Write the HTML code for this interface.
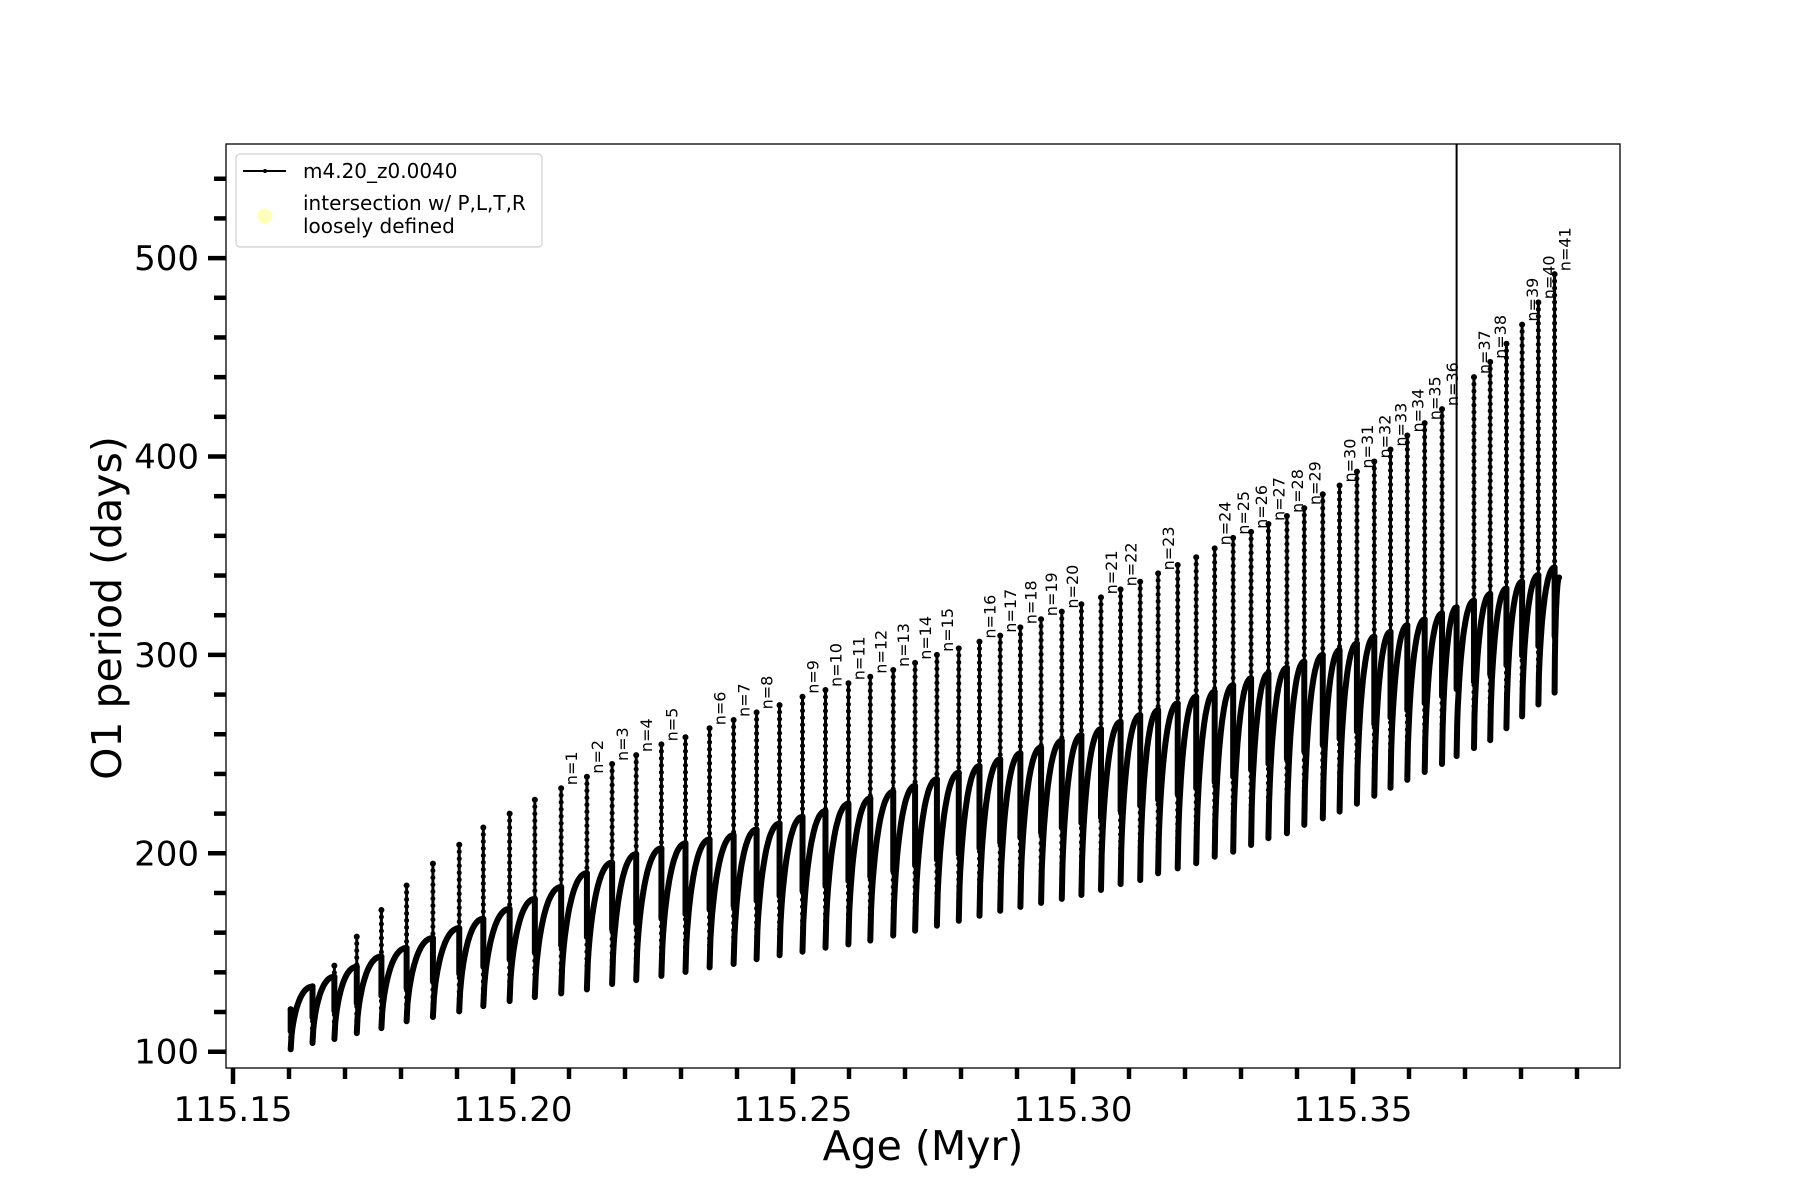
<!DOCTYPE html>
<html><head><meta charset="utf-8"><title>O1 period vs Age</title>
<style>
html,body{margin:0;padding:0;background:#fff;}
svg{display:block;font-family:"DejaVu Sans","Liberation Sans",sans-serif;}
</style></head>
<body>
<svg id="chart" width="1800" height="1200" viewBox="0 0 1800 1200" xmlns="http://www.w3.org/2000/svg">
<rect x="0" y="0" width="1800" height="1200" fill="#fff"/>
<defs><clipPath id="plotclip"><rect x="226" y="144" width="1394" height="924"/></clipPath></defs>
<g id="xticks"></g>
<g id="yticks"></g>
<g id="plot" clip-path="url(#plotclip)"></g>
<g id="labels"></g>
<rect x="226" y="144" width="1394" height="924" fill="none" stroke="#000" stroke-width="1.3"/>
<text x="923" y="1160" font-size="41" text-anchor="middle">Age (Myr)</text>
<text x="0" y="0" font-size="41" text-anchor="middle" transform="translate(121,608) rotate(-90)">O1 period (days)</text>
<g>
<rect x="236" y="154" width="306" height="93" rx="4" fill="#fff" fill-opacity="0.8" stroke="#d0d0d0" stroke-width="1.2"/>
<line x1="243" y1="171" x2="286" y2="171" stroke="#000" stroke-width="2"/>
<circle cx="265" cy="171" r="2" fill="#000"/>
<text x="303" y="178" font-size="20">m4.20_z0.0040</text>
<circle cx="265" cy="216" r="7.5" fill="#ffffaa" fill-opacity="0.8"/>
<text x="303" y="210" font-size="20">intersection w/ P,L,T,R</text>
<text x="303" y="233" font-size="20">loosely defined</text>
</g>
</svg>
<script>
const spikeAges = [115.1603,115.1642,115.1681,115.1721,115.1765,115.1810,115.1857,115.1904,115.1947,115.1994,115.2039,115.2086,115.2132,115.2177,115.2220,115.2265,115.2308,115.2351,115.2394,115.2435,115.2476,115.2517,115.2558,115.2599,115.2638,115.2679,115.2718,115.2757,115.2796,115.2833,115.2870,115.2906,115.2943,115.2980,115.3015,115.3050,115.3085,115.3120,115.3152,115.3187,115.3220,115.3253,115.3286,115.3318,115.3349,115.3382,115.3413,115.3446,115.3476,115.3507,115.3538,115.3567,115.3597,115.3628,115.3659,115.3685,115.3716,115.3745,115.3774,115.3802,115.3831,115.3860];
const peakPeriods = [121.4,133,143.4,158,171.4,183.8,194.8,204.3,213,220,227,232.8,238.6,245,249.5,254.9,258.5,263,267.2,271,274.7,278.9,282.3,285.7,289,292.4,296,300,303.3,306.7,309.7,313.9,318,321.8,325.5,329,333,336.9,341.1,345.3,349.2,353.7,359,362,366,370,374,381,385.4,392.4,397.5,403.5,410.6,416.8,423.9,600,440,447.7,456.8,466.5,477.7,491.9];
const capPeriods = [121.4,132.8,137.8,142.8,148,152.3,157.3,162.3,167,172,177,183,190,195.3,199.6,202.5,205,207,209.2,212,215,218.4,221.3,225,227.7,231,234,237.4,240.6,244,247.4,250.4,253.4,256.8,259.6,262.6,266.3,269.7,272.2,275.6,279,281.5,284.8,288.2,290.7,293.5,296.6,300,302.5,305.8,309.2,311.7,315,317.9,320.9,324,327.3,330.7,333.5,336.9,340.3,344.1];
const troughPeriods = [101.2,104.4,106.4,109.4,111.9,115.3,117.5,120.3,123,125.5,127.5,129.4,131.4,134.1,136.1,138.2,140.2,142.5,144.2,146.6,148.6,150.4,152.4,154.1,156,158.5,161,163.5,166,168.5,171,173,175,177,179,181.5,184.5,186.5,189.9,192.4,195,198.3,200.8,204.2,207.6,210.1,214.3,217.6,221,225,229,233,237,241,245,249,253,257,263,269,275,281];
const peakLabels = ["","","","","","","","","","","","n=1","n=2","n=3","n=4","n=5","","n=6","n=7","n=8","","n=9","n=10","n=11","n=12","n=13","n=14","n=15","","n=16","n=17","n=18","n=19","n=20","","n=21","n=22","","n=23","","","n=24","n=25","n=26","n=27","n=28","n=29","","n=30","n=31","n=32","n=33","n=34","n=35","n=36","","n=37","n=38","","n=39","n=40","n=41"];
const endAge = 115.3868;
const endPeriod = 339;
const xMajorTicks = [115.15,115.20,115.25,115.30,115.35];
const xMajorLabels = ["115.15","115.20","115.25","115.30","115.35"];
const xMinorTicks = [115.16,115.17,115.18,115.19,115.21,115.22,115.23,115.24,115.26,115.27,115.28,115.29,115.31,115.32,115.33,115.34,115.36,115.37,115.38,115.39];
const yMajorTicks = [100,200,300,400,500];
const yMajorLabels = ["100","200","300","400","500"];
const yMinorTicks = [120,140,160,180,220,240,260,280,320,340,360,380,420,440,460,480,520,540];

const NS = "http://www.w3.org/2000/svg";
function X(a){ return 233 + (a - 115.15) * 5600; }
function Y(v){ return 1051.7 - (v - 100) * 1.984; }
function mk(tag, attrs, parent){
  const e = document.createElementNS(NS, tag);
  for (const k in attrs) e.setAttribute(k, attrs[k]);
  parent.appendChild(e);
  return e;
}
const plot = document.getElementById('plot');
const labels = document.getElementById('labels');
const xt = document.getElementById('xticks');
const yt = document.getElementById('yticks');

xMajorTicks.forEach((t,i)=>{
  const l = mk('line',{x1:X(t),x2:X(t),y1:1068,y2:1084,stroke:'#000','stroke-width':4.5},xt);
  
  
  const tx = mk('text',{x:X(t),y:1121,'font-size':34,'text-anchor':'middle'},xt);
  tx.textContent = xMajorLabels[i];
  
  
});
xMinorTicks.forEach(t=>{
  const l = mk('line',{x1:X(t),x2:X(t),y1:1068,y2:1079,stroke:'#000','stroke-width':4.5},xt);
  
  
});
yMajorTicks.forEach((t,i)=>{
  const l = mk('line',{x1:208,x2:226,y1:Y(t),y2:Y(t),stroke:'#000','stroke-width':4.5},yt);
  
  
  const tx = mk('text',{x:199,y:Y(t)+12,'font-size':34,'text-anchor':'end'},yt);
  tx.textContent = yMajorLabels[i];
  
  
});
yMinorTicks.forEach(t=>{
  const l = mk('line',{x1:214,x2:226,y1:Y(t),y2:Y(t),stroke:'#000','stroke-width':4.5},yt);
  
  
});

function shape(u){ return Math.sin(Math.PI/2*Math.pow(u,0.6)); }
let arcD = "";
for (let i=0;i<spikeAges.length;i++){
  const a0 = spikeAges[i], v0 = troughPeriods[i];
  const a1 = (i+1<spikeAges.length) ? spikeAges[i+1] : endAge;
  const v1 = (i+1<spikeAges.length) ? capPeriods[i+1] : endPeriod;
  const N = 28;
  for (let k=0;k<=N;k++){
    const u = k/N;
    const px = X(a0 + (a1-a0)*u), py = Y(v0 + (v1-v0)*shape(u));
    arcD += (k===0?"M":"L") + px.toFixed(1) + " " + py.toFixed(1) + " ";
  }
}
const arc = mk('path',{d:arcD,fill:'none',stroke:'#000','stroke-width':6,'stroke-linejoin':'round','stroke-linecap':'round'},plot);



spikeAges.forEach((a,i)=>{
  const sx = X(a);
  const beyond = peakPeriods[i] > 557;
  const thin = mk('line',{x1:sx,x2:sx,y1:Y(peakPeriods[i]),y2:Y(troughPeriods[i]),stroke:'#000','stroke-width':beyond?2:3},plot);
  
  
  if (!beyond){
    const dots = mk('line',{x1:sx,x2:sx,y1:Y(peakPeriods[i]),y2:Y(troughPeriods[i]),stroke:'#000','stroke-width':5,'stroke-dasharray':'0 7','stroke-linecap':'round'},plot);
    
    
    const top = mk('circle',{cx:sx,cy:Y(peakPeriods[i]),r:3,fill:'#000'},plot);
    
    
  }
  const midV = troughPeriods[i] + 0.45*(capPeriods[i]-troughPeriods[i]);
  const thick = mk('line',{x1:sx,x2:sx,y1:Y(capPeriods[i]),y2:Y(midV),stroke:'#000','stroke-width':6,'stroke-linecap':'round'},plot);
  
  
  if (peakLabels[i]){
    const px = sx + 16, py = Y(peakPeriods[i]) - 3;
    const t = mk('text',{x:0,y:0,'font-size':16,transform:'translate('+px.toFixed(1)+','+py.toFixed(1)+') rotate(-90)'},labels);
    t.textContent = peakLabels[i];
    
    
  }
});
</script>
</body></html>
